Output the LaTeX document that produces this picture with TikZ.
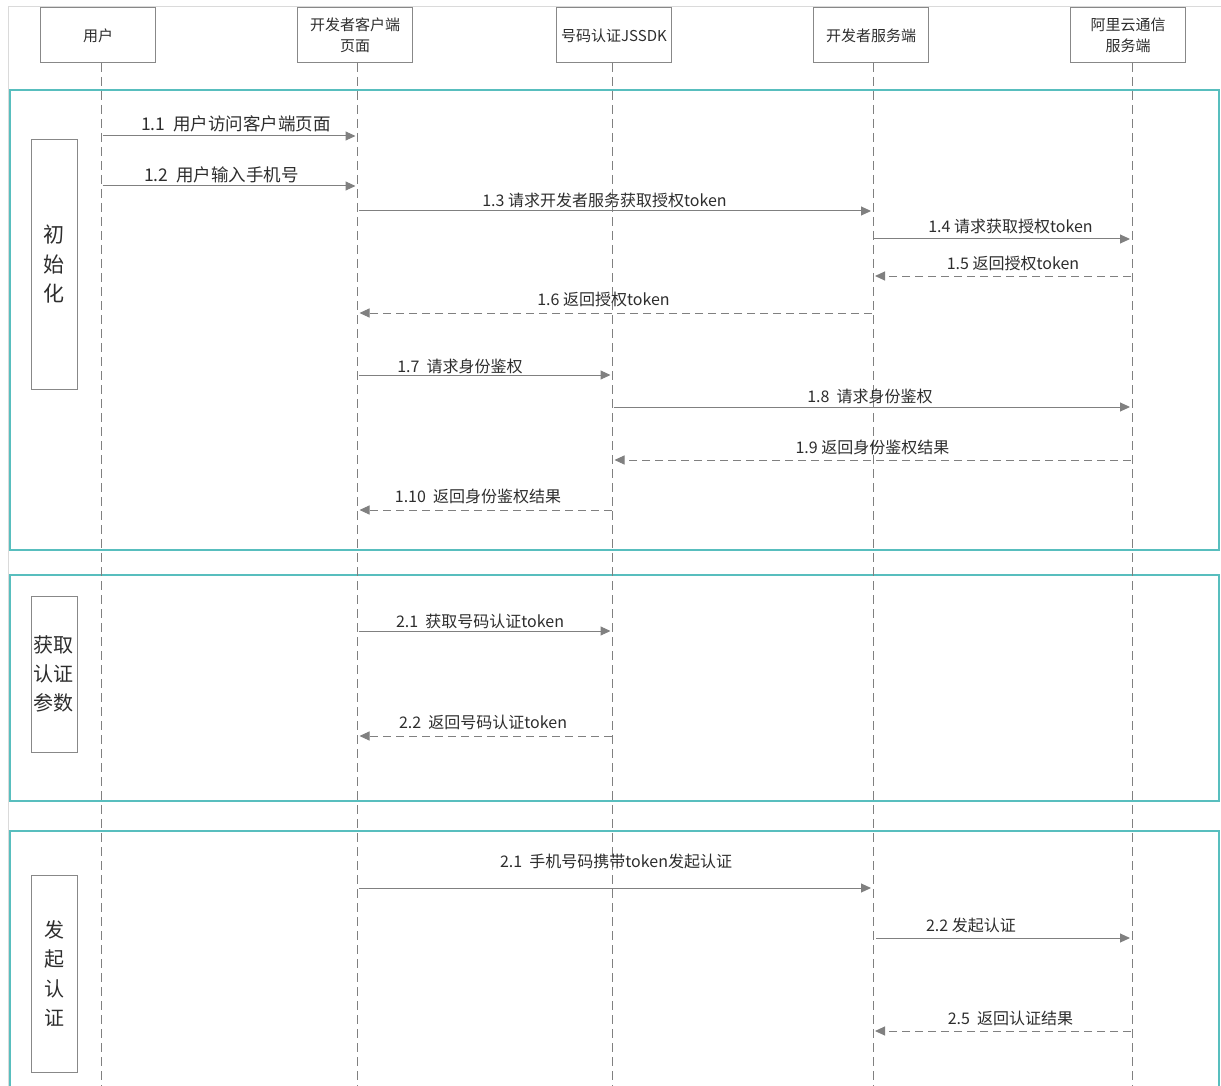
\documentclass[tikz,border=0pt]{standalone}
\usepackage{fontspec}
\setmainfont{Noto Sans CJK SC}
\usetikzlibrary{arrows.meta}
\definecolor{teal1}{RGB}{88,190,190}
\definecolor{lineg}{RGB}{128,128,128}
\definecolor{boxg}{RGB}{136,136,136}
\definecolor{txt}{RGB}{45,45,45}
\definecolor{frameg}{RGB}{218,218,218}
\begin{document}
\begin{tikzpicture}[x=1pt,y=-1pt,
  hdr/.style={draw=boxg, line width=1pt, minimum width=115pt, minimum height=55pt, inner sep=0pt, text=txt, font=\fontsize{15}{21}\selectfont, align=center},
  life/.style={draw=lineg, line width=0.9pt, dash pattern=on 9pt off 5pt},
  phase/.style={draw=teal1, line width=2.4pt},
  side/.style={draw=boxg, line width=1pt, minimum width=46pt, inner sep=0pt, text=txt, align=center},
  lbl/.style={text=txt, inner sep=0pt, font=\fontsize{16}{18}\selectfont},
  lblb/.style={text=txt, inner sep=0pt, font=\fontsize{17.5}{20}\selectfont},
  call/.style={draw=lineg, line width=1pt, -{Triangle[length=10pt,width=9pt]}, shorten >=2pt, shorten <=1pt},
  reply/.style={call, dash pattern=on 8pt off 5pt}]
\useasboundingbox (0,0) rectangle (1221,1086);
% outer frame
\draw[frameg, line width=1pt] (8,1095) -- (8,7) -- (1230,7);
% phase frames
\draw[phase] (10,90) rectangle (1219,550);
\draw[phase] (10,575) rectangle (1219,801);
\draw[phase] (10,831) rectangle (1219,1110);
% headers
\node[hdr] (user) at (98,35.5) {用户};
\node[hdr] (client) at (355,35.5) {开发者客户端\\页面};
\node[hdr] (sdk) at (614,35.5) {号码认证JSSDK};
\node[hdr] (server) at (871,35.5) {开发者服务端};
\node[hdr] (ali) at (1128,35.5) {阿里云通信\\服务端};
% lifelines
\coordinate (Lu) at (101.5,63);
\coordinate (Lc) at (357.5,63);
\coordinate (Lj) at (612.5,63);
\coordinate (Ls) at (873,63);
\coordinate (La) at (1132,63);
\foreach \l in {Lu,Lc,Lj,Ls,La} \draw[life] (\l) -- (\l |- 0,1090);
% side labels
\node[side, minimum height=249pt, font=\fontsize{21}{29.5}\selectfont] (p1) at (54,264.5) {初\\始\\化};
\node[side, minimum height=156pt, font=\fontsize{20}{29}\selectfont] (p2) at (54,674) {获取\\认证\\参数};
\node[side, minimum height=197pt, font=\fontsize{20}{29.5}\selectfont] (p3) at (54,973.5) {发\\起\\认\\证};
% messages
\draw[call] (Lu |- 0,136) -- (Lc |- 0,136);
\node[lblb] (m1) at (236,124) {1.1\ \ 用户访问客户端页面};
\draw[call] (Lu |- 0,186) -- (Lc |- 0,186);
\node[lblb] (m2) at (221.5,175) {1.2\ \ 用户输入手机号};
\draw[call] (Lc |- 0,211) -- (Ls |- 0,211);
\node[lbl] (m3) at (604.5,200) {1.3 请求开发者服务获取授权token};
\draw[call] (Ls |- 0,239) -- (La |- 0,239);
\node[lbl] (m4) at (1010.5,226) {1.4 请求获取授权token};
\draw[reply] (La |- 0,276) -- (Ls |- 0,276);
\node[lbl] (m5) at (1013,263) {1.5 返回授权token};
\draw[reply] (Ls |- 0,313) -- (Lc |- 0,313);
\node[lbl] (m6) at (603.5,299) {1.6 返回授权token};
\draw[call] (Lc |- 0,375) -- (Lj |- 0,375);
\node[lbl] (m7) at (460,366) {1.7\ \ 请求身份鉴权};
\draw[call] (Lj |- 0,407) -- (La |- 0,407);
\node[lbl] (m8) at (870,396) {1.8\ \ 请求身份鉴权};
\draw[reply] (La |- 0,460) -- (Lj |- 0,460);
\node[lbl] (m9) at (872.5,447) {1.9 返回身份鉴权结果};
\draw[reply] (Lj |- 0,510) -- (Lc |- 0,510);
\node[lbl] (m10) at (478,496) {1.10\ \ 返回身份鉴权结果};
\draw[call] (Lc |- 0,631) -- (Lj |- 0,631);
\node[lbl] (m11) at (480,621) {2.1\ \ 获取号码认证token};
\draw[reply] (Lj |- 0,736) -- (Lc |- 0,736);
\node[lbl] (m12) at (483,722) {2.2\ \ 返回号码认证token};
\draw[call] (Lc |- 0,888) -- (Ls |- 0,888);
\node[lbl] (m13) at (616,861) {2.1\ \ 手机号码携带token发起认证};
\draw[call, shorten <=3pt] (Ls |- 0,938) -- (La |- 0,938);
\node[lbl] (m14) at (971,925) {2.2 发起认证};
\draw[reply] (La |- 0,1031) -- (Ls |- 0,1031);
\node[lbl] (m15) at (1010.5,1018) {2.5\ \ 返回认证结果};
\end{tikzpicture}
\end{document}
